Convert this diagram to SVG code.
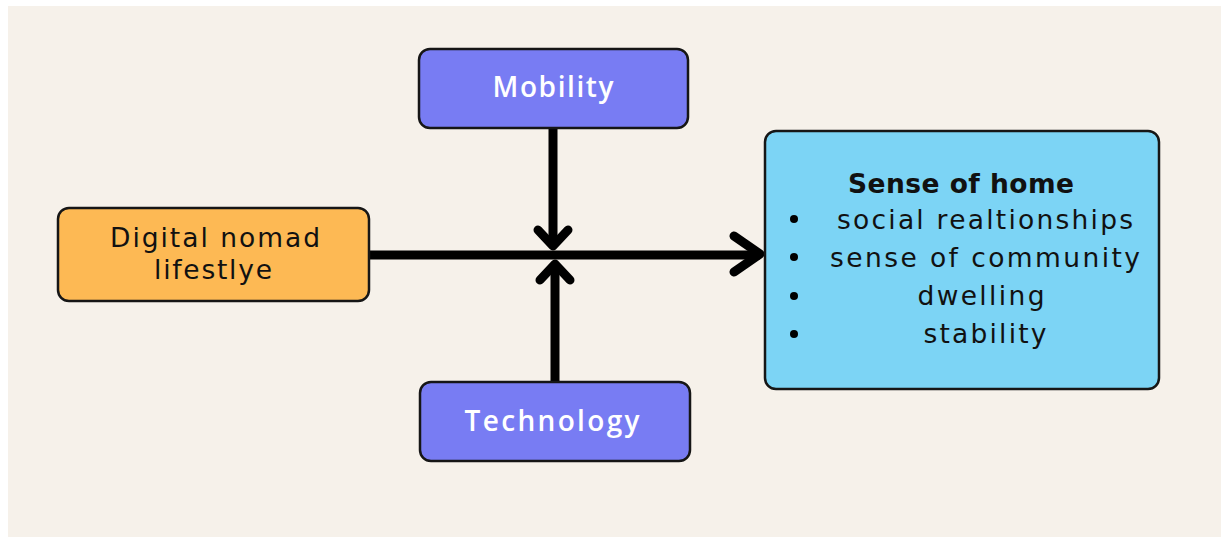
<svg xmlns="http://www.w3.org/2000/svg" width="1221" height="538" viewBox="0 0 1221 538">
  <style>
    .box { stroke: #161616; stroke-width: 2.5; }
    .driver { fill: #787CF3; }
    .label { font-family: "DejaVu Sans", "Open Sans", sans-serif; font-size: 26.5px; text-anchor: middle; }
    .light { fill: #ffffff; font-family: "Open Sans", "DejaVu Sans", sans-serif; font-size: 28px; font-weight: 600; }
    .dark { fill: #111111; font-weight: 400; }
    .wire { stroke: #000000; stroke-width: 9; fill: none; }
    .head { stroke: #000000; stroke-width: 9; fill: none; stroke-linecap: round; stroke-linejoin: round; }
  </style>

  <rect x="0" y="0" width="1221" height="538" fill="#ffffff"/>
  <rect x="8" y="6" width="1213" height="531" fill="#F6F1EA"/>

  <g id="connectors">
    <line class="wire" x1="370" y1="255" x2="760" y2="255"/>
    <polyline class="head" points="734,236 760,254 734,272"/>
    <line class="wire" x1="553" y1="128" x2="553" y2="246"/>
    <polyline class="head" points="538,230 553,246 568,230"/>
    <line class="wire" x1="555" y1="382" x2="555" y2="264"/>
    <polyline class="head" points="540,280 555,264 570,280"/>
  </g>

  <g id="mobility">
    <rect class="box driver" x="419" y="49" width="269" height="79" rx="11"/>
    <text class="label light" x="553" y="97" textLength="121" lengthAdjust="spacing">Mobility</text>
  </g>

  <g id="digital-nomad">
    <rect class="box" x="58" y="208" width="311" height="93" rx="11" fill="#FDB954"/>
    <text class="label dark" x="215" y="247" textLength="210" lengthAdjust="spacing">Digital nomad</text>
    <text class="label dark" x="213" y="279" textLength="118" lengthAdjust="spacing">lifestlye</text>
  </g>

  <g id="technology">
    <rect class="box driver" x="420" y="382" width="270" height="79" rx="11"/>
    <text class="label light" x="552" y="431" textLength="175" lengthAdjust="spacing">Technology</text>
  </g>

  <g id="sense-of-home">
    <rect class="box" x="765" y="131" width="394" height="258" rx="11" fill="#7CD4F5"/>
    <text class="label dark" x="961" y="193" style="font-weight:700" textLength="226" lengthAdjust="spacing">Sense of home</text>
    <g fill="#000000">
      <circle cx="794" cy="219" r="4"/>
      <circle cx="794" cy="257" r="4"/>
      <circle cx="794" cy="296" r="4"/>
      <circle cx="794" cy="334" r="4"/>
    </g>
    <text class="label dark" x="985" y="229" textLength="296" lengthAdjust="spacing">social realtionships</text>
    <text class="label dark" x="985" y="267" textLength="310" lengthAdjust="spacing">sense of community</text>
    <text class="label dark" x="981" y="305" textLength="127" lengthAdjust="spacing">dwelling</text>
    <text class="label dark" x="985" y="343" textLength="123" lengthAdjust="spacing">stability</text>
  </g>
</svg>
